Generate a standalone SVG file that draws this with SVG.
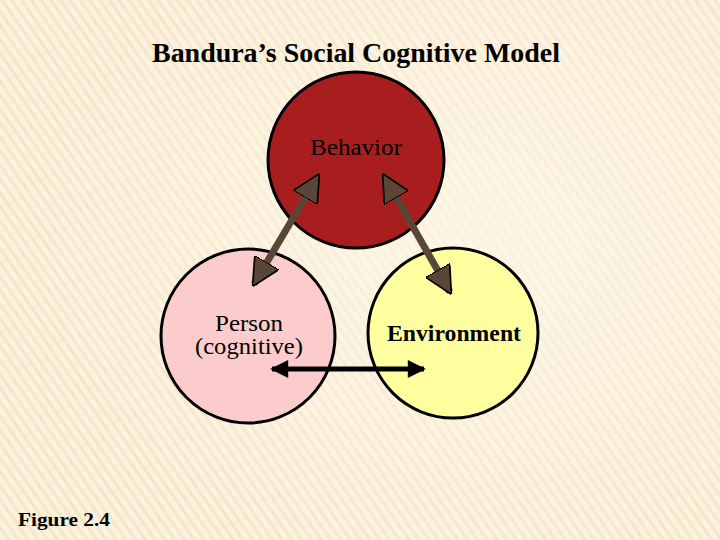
<svg xmlns="http://www.w3.org/2000/svg" width="720" height="540" viewBox="0 0 720 540">
<defs>
<pattern id="stripes" width="8" height="8" patternUnits="userSpaceOnUse" patternTransform="rotate(-35)">
<rect width="8" height="8" fill="#fbf1de"/>
<rect width="3" height="8" fill="#f6e6c8"/>
</pattern>
<radialGradient id="glow" cx="0.65" cy="0.45" r="0.6">
<stop offset="0" stop-color="#fff8ea" stop-opacity="0.7"/>
<stop offset="1" stop-color="#fff8ea" stop-opacity="0"/>
</radialGradient>
<marker id="bh" viewBox="0 0 10 10" refX="9" refY="5" markerWidth="4" markerHeight="4" orient="auto-start-reverse">
<path d="M0,0 L10,5 L0,10 z" fill="#5a4636" stroke="#000" stroke-width="0.6"/>
</marker>
<marker id="kh" viewBox="0 0 10 10" refX="9" refY="5" markerWidth="6" markerHeight="3.6" orient="auto-start-reverse">
<path d="M0,0 L10,5 L0,10 z" fill="#000"/>
</marker>
</defs>
<style>
.c{stroke:#000;stroke-width:3}
.t{font-family:"Liberation Serif",serif;fill:#000}
.ba{stroke:#5a4636;stroke-width:7;fill:none}
</style>
<rect width="720" height="540" fill="url(#stripes)"/>
<rect width="720" height="540" fill="url(#glow)"/>
<text class="t" x="152" y="62" font-size="28" font-weight="bold" textLength="408" lengthAdjust="spacingAndGlyphs">Bandura’s Social Cognitive Model</text>
<g id="behavior"><circle class="c" cx="356" cy="160" r="88" fill="#a81e1e"/><text class="t" x="310" y="155" font-size="24" textLength="92" lengthAdjust="spacingAndGlyphs">Behavior</text></g>
<g id="person"><circle class="c" cx="248" cy="336" r="87" fill="#fccccc"/><text class="t" x="215" y="331" font-size="24" textLength="68" lengthAdjust="spacingAndGlyphs">Person</text><text class="t" x="195" y="354" font-size="24" textLength="108" lengthAdjust="spacingAndGlyphs">(cognitive)</text></g>
<g id="environment"><circle class="c" cx="453" cy="333" r="85" fill="#ffffa0"/><text class="t" x="387" y="341" font-size="23" font-weight="bold" textLength="134" lengthAdjust="spacingAndGlyphs">Environment</text></g>
<g id="connectors">
<line class="ba" x1="318" y1="176" x2="254" y2="284" marker-start="url(#bh)" marker-end="url(#bh)"/>
<line class="ba" x1="384" y1="176" x2="450" y2="292" marker-start="url(#bh)" marker-end="url(#bh)"/>
<line x1="272" y1="369" x2="424" y2="369" stroke="#000" stroke-width="5" marker-start="url(#kh)" marker-end="url(#kh)"/>
</g>
<text class="t" x="18" y="526" font-size="18" font-weight="bold" textLength="92" lengthAdjust="spacingAndGlyphs">Figure 2.4</text>
</svg>
